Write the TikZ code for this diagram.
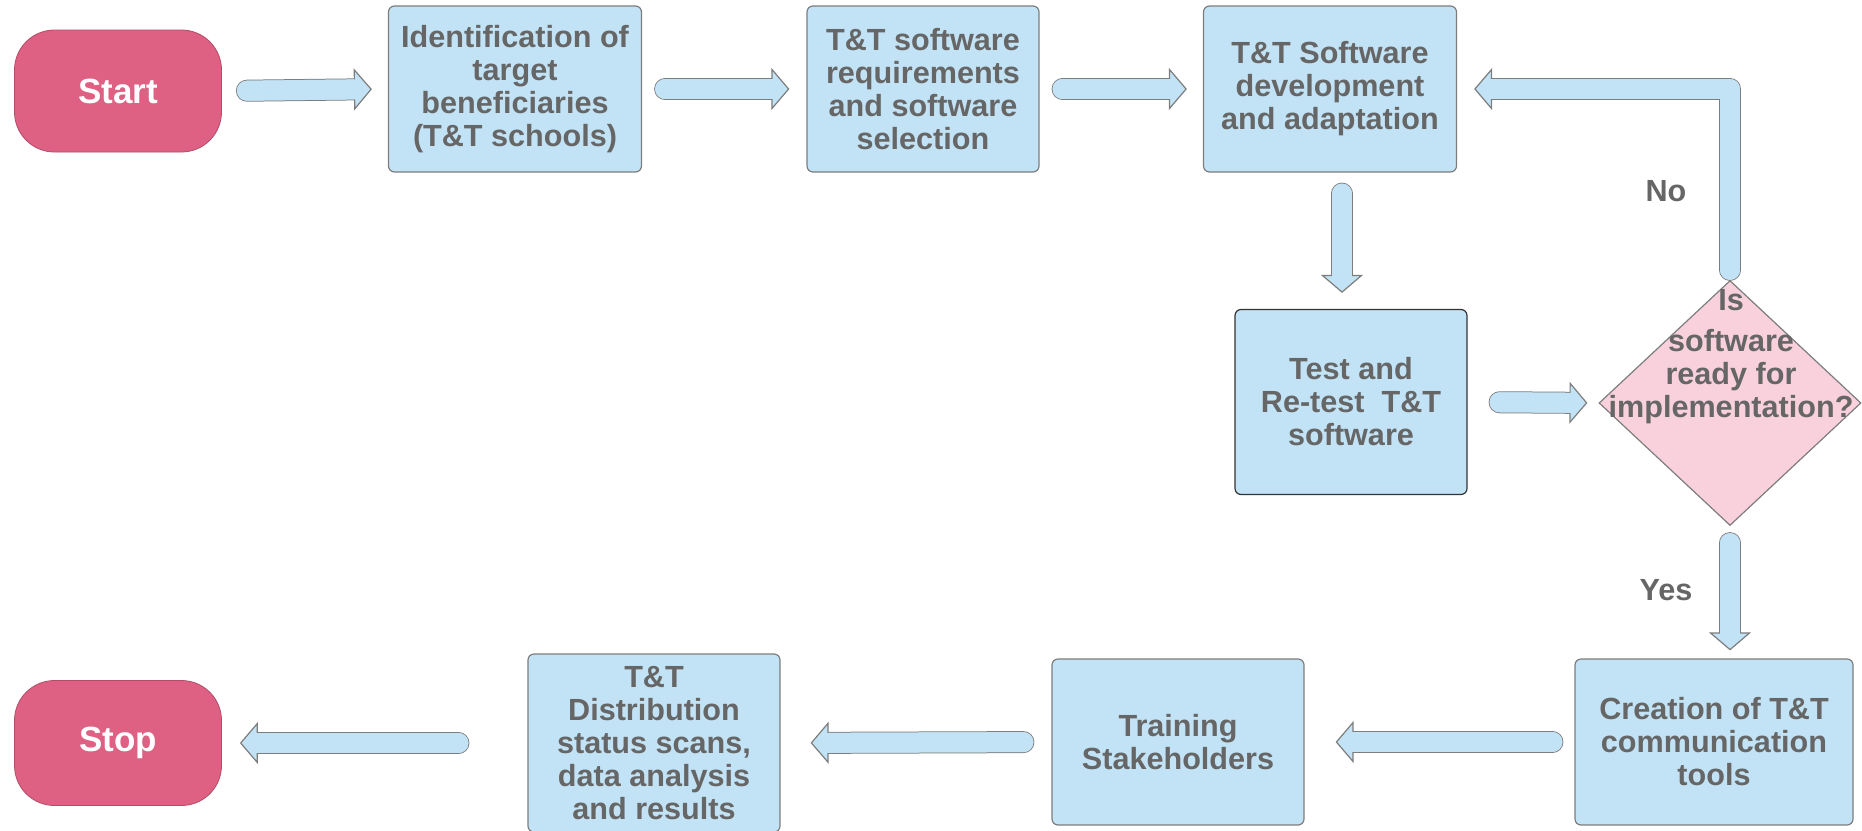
\documentclass[tikz,border=0pt]{standalone}
\usepackage{fontspec}
\setmainfont{Liberation Sans}
\usetikzlibrary{shapes.geometric,arrows.meta,calc}
\definecolor{boxblue}{RGB}{194,227,245}
\definecolor{termpink}{RGB}{222,96,131}
\definecolor{decpink}{RGB}{248,209,221}
\definecolor{edgegray}{RGB}{125,125,125}
\definecolor{txtgray}{RGB}{102,102,102}
\tikzset{
    txt/.style={font=\bfseries\fontsize{15.3}{16.5}\selectfont, text=txtgray, align=center},
    stepbox/.style={txt, rectangle, rounded corners=3pt, fill=boxblue, draw=edgegray, line width=0.6pt, inner sep=2pt},
    term/.style={rectangle, rounded corners=20pt, fill=termpink, draw=termpink!80!black, line width=0.4pt,
        minimum width=103.5pt, minimum height=61pt, text=white, font=\bfseries\fontsize{17.5}{20}\selectfont},
    decision/.style={diamond, fill=decpink, draw=edgegray, line width=0.6pt, inner sep=0pt, minimum width=131pt, minimum height=122.5pt},
    blkedge/.style={line width=11pt, draw=edgegray, line cap=round, line join=round},
    blkbody/.style={line width=10pt, draw=boxblue, line cap=round, line join=round},
    blktip/.style={-{Triangle[width=21pt, length=9pt, fill=boxblue, color=edgegray, line width=0.6pt]}},
}
% block arrow: path, gap at start, gap at end
\newcommand\BlkArrow[3]{%
    \draw[blkedge, shorten <=#2, shorten >=#3+8.5pt] #1;
    \draw[blkbody, blktip, shorten <=#2, shorten >=#3] #1;
    \draw[blkbody, shorten <=#2, shorten >=#3+8pt] #1;
}
\begin{document}
\begin{tikzpicture}[x=0.5pt, y=-0.5pt]
    \useasboundingbox (0,0) rectangle (1862,830);

    % top row
    \node[term] (start) at (118,91) {Start};
    \node[stepbox, minimum width=126.5pt, minimum height=83pt] (ident) at (515,89)
        {Identification of\\target\\beneficiaries\\(T\&T schools)};
    \node[stepbox, minimum width=116pt, minimum height=83pt] (req) at (923,89)
        {T\&T software\\requirements\\and software\\selection};
    \node[stepbox, minimum width=126.5pt, minimum height=83pt] (dev) at (1330,89)
        {T\&T Software\\development\\and adaptation};

    % test and decision
    \node[stepbox, draw=black!80, minimum width=116pt, minimum height=92.5pt] (test) at (1351,402)
        {Test and\\Re-test~~T\&T\\software};
    \node[decision] (dia) at (1730,403) {};
    \node[txt] (qtext) at (1731,357) {Is\\[4pt]software\\ready for\\implementation?};
    \node[txt] (no) at (1666,191) {No};
    \node[txt] (yes) at (1666,590) {Yes};

    % bottom row
    \node[stepbox, minimum width=139pt, minimum height=83pt] (create) at (1714,742)
        {Creation of T\&T\\communication\\tools};
    \node[stepbox, minimum width=126pt, minimum height=83pt] (train) at (1178,742)
        {Training\\Stakeholders};
    \node[stepbox, minimum width=126pt, minimum height=89pt] (dist) at (654,743)
        {T\&T\\Distribution\\status scans,\\data analysis\\and results};
    \node[term, minimum height=62.5pt] (stop) at (118,743) {Stop};

    % block arrows
    \BlkArrow{(start.east) -- (ident.west)}{12.5pt}{8pt}
    \BlkArrow{(ident.east) -- (req.west)}{11.5pt}{8.5pt}
    \BlkArrow{(req.east) -- (dev.west)}{11.5pt}{8pt}
    \BlkArrow{([xshift=6pt]dev.south) -- ([xshift=6pt]dev.south |- test.north)}{10.5pt}{8pt}
    \BlkArrow{(test.east) -- (dia.west)}{16pt}{5.5pt}
    \BlkArrow{(dia.north) |- (dev.east)}{5pt}{8.5pt}
    \BlkArrow{(dia.south) -- (dia.south |- create.north)}{8.5pt}{4pt}
    \BlkArrow{(create.west) -- (train.east)}{11pt}{15.5pt}
    \BlkArrow{(train.west) -- (dist.east)}{14pt}{15pt}
    \BlkArrow{(dist.west) -- (stop.east)}{34.5pt}{9pt}
\end{tikzpicture}
\end{document}
